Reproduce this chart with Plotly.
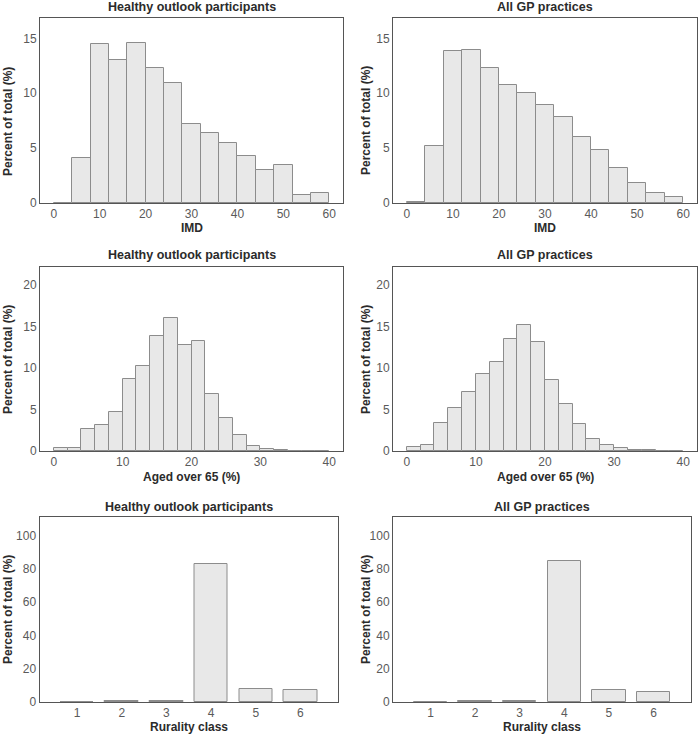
import plotly.graph_objects as go

# ---------------- data ----------------
imd_bin_starts = [0, 4, 8, 12, 16, 20, 24, 28, 32, 36, 40, 44, 48, 52, 56]
imd_participants = [0.0, 4.1, 14.5, 13.0, 14.6, 12.3, 10.9, 7.2, 6.4, 5.5, 4.3, 3.0, 3.5, 0.75, 0.9]
imd_gp = [0.1, 5.2, 13.8, 13.95, 12.3, 10.75, 10.0, 8.95, 7.8, 6.0, 4.8, 3.2, 1.85, 0.9, 0.55]

age_bin_starts = [0, 2, 4, 6, 8, 10, 12, 14, 16, 18, 20, 22, 24, 26, 28, 30, 32, 34, 36, 38]
age_participants = [0.35, 0.35, 2.7, 3.1, 4.7, 8.65, 10.3, 13.9, 16.1, 12.75, 13.25, 6.85, 3.95, 1.9, 0.6, 0.28, 0.15, 0.0, 0.0, 0.0]
age_gp = [0.5, 0.75, 3.4, 5.2, 7.15, 9.3, 10.75, 13.5, 15.2, 13.1, 8.6, 5.7, 3.25, 1.5, 0.75, 0.32, 0.16, 0.14, 0.06, 0.04]

rurality_classes = [1, 2, 3, 4, 5, 6]
rurality_participants = [0.1, 0.9, 0.6, 83.0, 8.0, 7.0]
rurality_gp = [0.1, 0.6, 0.8, 84.8, 7.5, 6.3]

title_left = "Healthy outlook participants"
title_right = "All GP practices"
ytitle = "Percent of total (%)"

# ---------------- layout helpers ----------------
W, H = 700, 735
def px(p):
    return p / W
def py(p):
    return 1 - p / H

FILL = "#e8e8e8"
EDGE = "#8c8c8c"
BOX = "#555555"
TICKC = "#5a5a5a"
TXT = "#2b2b2b"
FONT = "Liberation Sans, Arial, sans-serif"

fig = go.Figure()

# panel boxes in pixels: (x0, x1, ytop, ybottom)
panels = [
    dict(box=(40, 343, 18, 203), xs=imd_bin_starts, ys=imd_participants, w=4, offset=0,
         xr=[-3, 63], yr=[0, 16.85], xt=[0, 10, 20, 30, 40, 50, 60], yt=[0, 5, 10, 15],
         title=title_left, xtitle="IMD", ty=7, xty=228, yty=122, ytx=8),
    dict(box=(393, 697, 18, 203), xs=imd_bin_starts, ys=imd_gp, w=4, offset=0,
         xr=[-3, 63], yr=[0, 16.85], xt=[0, 10, 20, 30, 40, 50, 60], yt=[0, 5, 10, 15],
         title=title_right, xtitle="IMD", ty=7, xty=228, yty=121, ytx=366),
    dict(box=(40, 343, 267, 451), xs=age_bin_starts, ys=age_participants, w=2, offset=0,
         xr=[-2, 42], yr=[0, 22.2], xt=[0, 10, 20, 30, 40], yt=[0, 5, 10, 15, 20],
         title=title_left, xtitle="Aged over 65 (%)", ty=255, xty=477, yty=360, ytx=8),
    dict(box=(393, 697, 267, 451), xs=age_bin_starts, ys=age_gp, w=2, offset=0,
         xr=[-2, 42], yr=[0, 22.2], xt=[0, 10, 20, 30, 40], yt=[0, 5, 10, 15, 20],
         title=title_right, xtitle="Aged over 65 (%)", ty=255, xty=477, yty=360, ytx=366),
    dict(box=(39.5, 338, 517, 702), xs=rurality_classes, ys=rurality_participants, w=0.75, offset=None,
         xr=[0.16, 6.84], yr=[0, 111.3], xt=[1, 2, 3, 4, 5, 6], yt=[0, 20, 40, 60, 80, 100],
         title=title_left, xtitle="Rurality class", ty=507, xty=727, yty=610, ytx=8),
    dict(box=(393, 691, 517, 702), xs=rurality_classes, ys=rurality_gp, w=0.75, offset=None,
         xr=[0.16, 6.84], yr=[0, 111.3], xt=[1, 2, 3, 4, 5, 6], yt=[0, 20, 40, 60, 80, 100],
         title=title_right, xtitle="Rurality class", ty=507, xty=727, yty=610, ytx=366),
]

annotations = []
for i, p in enumerate(panels, start=1):
    sfx = "" if i == 1 else str(i)
    x0, x1, yt_, yb_ = p["box"]
    bar_kwargs = dict(x=p["xs"], y=p["ys"], width=p["w"],
                      marker=dict(color=FILL, line=dict(color=EDGE, width=1)),
                      xaxis="x" + sfx, yaxis="y" + sfx, showlegend=False, hoverinfo="x+y")
    if p["offset"] is not None:
        bar_kwargs["offset"] = p["offset"]
    fig.add_trace(go.Bar(**bar_kwargs))

    axis_common = dict(showgrid=False, zeroline=False, showline=True, mirror=True,
                       linecolor=BOX, linewidth=1, ticks="", automargin=False,
                       tickfont=dict(family=FONT, size=12, color=TICKC))
    fig.layout["xaxis" + sfx] = dict(axis_common, domain=[px(x0), px(x1)], range=p["xr"],
                                     tickvals=p["xt"], anchor="y" + sfx)
    fig.layout["yaxis" + sfx] = dict(axis_common, domain=[py(yb_), py(yt_)], range=p["yr"],
                                     tickvals=p["yt"], anchor="x" + sfx)

    cx = (x0 + x1) / 2
    annotations.append(dict(text="<b>%s</b>" % p["title"], x=px(cx), y=py(p["ty"]),
                            xref="paper", yref="paper", xanchor="center", yanchor="middle",
                            showarrow=False, font=dict(family=FONT, size=12.5, color=TXT)))
    annotations.append(dict(text="<b>%s</b>" % p["xtitle"], x=px(cx), y=py(p["xty"]),
                            xref="paper", yref="paper", xanchor="center", yanchor="middle",
                            showarrow=False, font=dict(family=FONT, size=12, color=TXT)))
    annotations.append(dict(text="<b>%s</b>" % ytitle, x=px(p["ytx"]), y=py(p["yty"]),
                            xref="paper", yref="paper", xanchor="center", yanchor="middle",
                            textangle=-90, showarrow=False,
                            font=dict(family=FONT, size=12, color=TXT)))

fig.update_layout(width=W, height=H, margin=dict(l=0, r=0, t=0, b=0, autoexpand=False),
                  paper_bgcolor="white", plot_bgcolor="white", bargap=0,
                  annotations=annotations, font=dict(family=FONT))

fig.write_html("out.html", config={"displayModeBar": False},
               post_script="document.body.style.margin='0';document.body.style.padding='0';")
